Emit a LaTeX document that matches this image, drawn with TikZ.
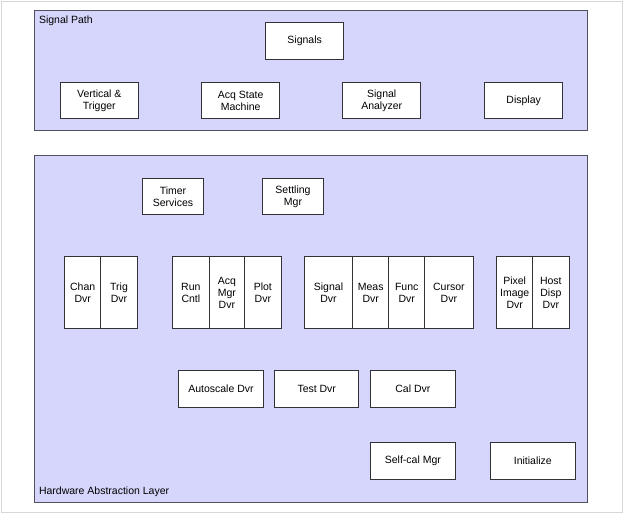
\documentclass[tikz,border=0pt]{standalone}
\usepackage{fontspec}
\setmainfont{Liberation Sans}
\definecolor{lav}{RGB}{214,214,252}
\definecolor{frm}{RGB}{215,215,215}
\definecolor{cbord}{RGB}{80,80,95}
\definecolor{bbord}{RGB}{50,50,55}
\begin{document}
\begin{tikzpicture}[x=1pt,y=-1pt,
  every node/.style={font=\fontsize{10.5}{12}\selectfont, inner sep=0pt, outer sep=0pt},
  layer/.style={draw=cbord, fill=lav, line width=1pt, rectangle, anchor=north west},
  blk/.style={draw=bbord, fill=white, line width=1pt, rectangle, anchor=north west, align=center},
  wide/.style={blk, minimum width=78pt, minimum height=36.5pt},
  small/.style={blk, minimum width=60.6pt, minimum height=36.5pt},
  tall/.style={blk, minimum width=36pt, minimum height=72pt},
  tallw/.style={blk, minimum width=48.3pt, minimum height=72pt},
  flat/.style={blk, minimum width=84.3pt, minimum height=36.3pt},
  lbl/.style={anchor=base west}
]
\useasboundingbox (0,0) rectangle (624,515);
\draw[frm, line width=1pt] (1,1) rectangle (622.5,512);
% containers
\node[layer, minimum width=552.5pt, minimum height=120pt] (sp) at (34.7,10.7) {};
\node[layer, minimum width=552.5pt, minimum height=347.5pt] (hal) at (34.7,155.2) {};
\node[lbl] (splbl) at (39,23) {Signal Path};
\node[lbl] (hallbl) at (39,494) {Hardware Abstraction Layer};
% signal path
\node[wide] (signals) at (265.7,22.7) {Signals};
\node[wide] (vt) at (60.3,82.3) {Vertical \&\\Trigger};
\node[wide] (asm) at (201.7,82.3) {Acq State\\Machine};
\node[wide] (sa) at (342.7,82.3) {Signal\\Analyzer};
\node[wide] (disp) at (484.7,82.3) {Display};
% HAL top
\node[small] (timer) at (142.7,178.3) {Timer\\Services};
\node[small] (settle) at (262.7,178.3) {Settling\\Mgr};
% tall groups
\node[tall] (chan) at (64.7,256.7) {Chan\\Dvr};
\node[tall, minimum width=36.6pt] (trig) at (100.7,256.7) {Trig\\Dvr};
\node[tall, minimum width=36.3pt] (run) at (172.7,256.7) {Run\\Cntl};
\node[tall, minimum width=35.7pt] (acqmgr) at (209,256.7) {Acq\\Mgr\\Dvr};
\node[tall, minimum width=36.3pt] (plot) at (244.7,256.7) {Plot\\Dvr};
\node[tallw, minimum width=48.4pt] (sigdvr) at (304.3,256.7) {Signal\\Dvr};
\node[tall] (meas) at (352.7,256.7) {Meas\\Dvr};
\node[tall] (func) at (388.7,256.7) {Func\\Dvr};
\node[tallw] (cursor) at (424.7,256.7) {Cursor\\Dvr};
\node[tall] (pixel) at (496.7,256.7) {Pixel\\Image\\Dvr};
\node[tall, minimum width=36.3pt] (host) at (532.7,256.7) {Host\\Disp\\Dvr};
% bottom
\node[flat] (auto) at (178.8,370.8) {Autoscale Dvr};
\node[flat] (test) at (274.6,370.8) {Test Dvr};
\node[flat] (cal) at (370.7,370.8) {Cal Dvr};
\node[flat] (selfcal) at (370.7,442.7) {Self-cal Mgr};
\node[flat] (init) at (490.7,442.7) {Initialize};
\end{tikzpicture}
\end{document}
